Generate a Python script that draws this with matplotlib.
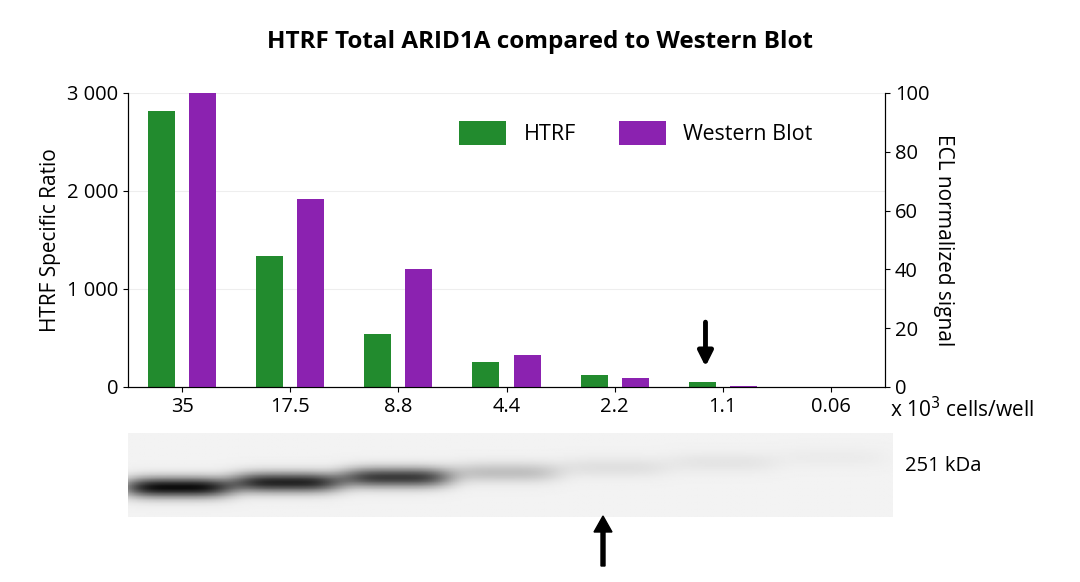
import numpy as np
import matplotlib
matplotlib.use("Agg")
import matplotlib.pyplot as plt

plt.rcParams["font.family"] = "Open Sans"

categories = ["35", "17.5", "8.8", "4.4", "2.2", "1.1", "0.06"]
htrf = [2820, 1340, 540, 260, 120, 50, 0]
western = [100, 64, 40, 11, 3, 0.5, 0]
band_intensity = [1.0, 0.9, 0.8, 0.22, 0.08, 0.06, 0.03]

W, H = 1080, 582
fig = plt.figure(figsize=(W/100, H/100), dpi=100)
ax = fig.add_axes([128/W, 1-387/H, (885-128)/W, (387-93)/H])
ax2 = ax.twinx()
x = np.arange(len(categories))
bw = 0.25
ax.bar(x-0.19, htrf, bw, color="#228B2E", label="HTRF")
ax2.bar(x+0.19, western, bw, color="#8B22B0", label="Western Blot")
ax.set_xlim(-0.5, len(categories)-0.5)
ax.set_ylim(0, 3000)
ax2.set_ylim(0, 100)
ax.set_yticks([0, 1000, 2000, 3000])
ax.set_yticklabels(["0", "1 000", "2 000", "3 000"])
ax2.set_yticks([0, 20, 40, 60, 80, 100])
ax.set_xticks(x)
ax.set_xticklabels(categories)
for a in (ax, ax2):
    a.tick_params(labelsize=14.5)
    a.spines["top"].set_visible(False)
ax.grid(axis="y", color="#eeeeee", lw=0.8)
ax.set_axisbelow(True)
ax.set_ylabel("HTRF Specific Ratio", fontsize=15)
ax2.set_ylabel("ECL normalized signal", fontsize=15, rotation=270, labelpad=18)
fig.text(0.5, 1-42/H, "HTRF Total ARID1A compared to Western Blot", ha="center",
         va="center", fontsize=17.5, fontweight="bold")
fig.text(890/W, 1-410/H, "x 10$^3$ cells/well", fontsize=15, va="center")
h1, l1 = ax.get_legend_handles_labels()
h2, l2 = ax2.get_legend_handles_labels()
ax.legend(h1+h2, l1+l2, loc="upper right", bbox_to_anchor=(0.93, 0.97), ncol=2,
          frameon=False, fontsize=15.5, handlelength=2.2, handleheight=1.3, columnspacing=2)
ax2.annotate("", xy=(4.84, 6), xytext=(4.84, 23),
             arrowprops=dict(arrowstyle="-|>", color="black", lw=3.5, mutation_scale=22))

# western blot image
bx = fig.add_axes([128/W, 1-517/H, (893-128)/W, (517-433)/H])
nx, ny = 400, 60
xs = np.linspace(0, len(categories), nx)
ys = np.linspace(0, 1, ny)
img = np.zeros((ny, nx))
for i, v in enumerate(band_intensity):
    lane = np.exp(-((xs-(i+0.45))/0.5)**4)
    yc = 0.65 - 0.06*i
    prof = np.exp(-((ys-yc)/0.12)**2)
    img += v*np.outer(prof, lane)
bx.imshow(0.95-np.clip(img, 0, 1)*0.9, cmap="gray", vmin=0, vmax=1, aspect="auto",
          extent=[0, len(categories), 1, 0])
bx.axis("off")
fig.text(905/W, 1-466/H, "251 kDa", fontsize=14.5, va="center")
fig.patches.append(matplotlib.patches.FancyArrow(603/W, 1-566/H, 0, 50/H, width=4/W,
    head_width=18/W, head_length=16/H, color="black", transform=fig.transFigure, length_includes_head=True))
fig.savefig("out.png", dpi=100, facecolor="white")
